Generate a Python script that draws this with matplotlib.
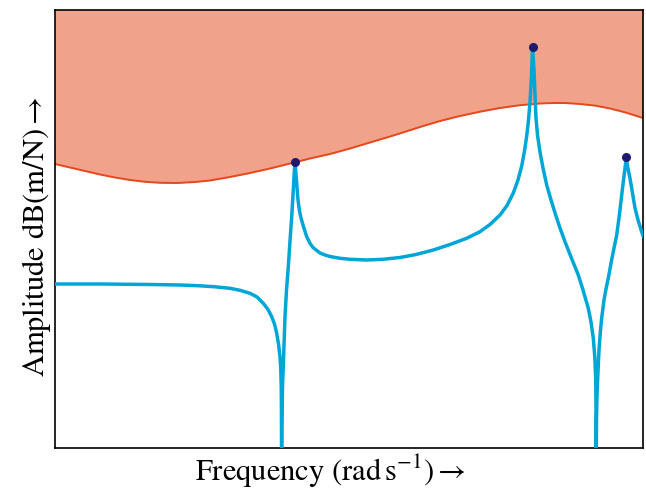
import matplotlib
matplotlib.use("Agg")
import matplotlib.pyplot as plt

# Frequency response (frequency in rad/s, amplitude in dB)
freq = [0, 45, 95, 125, 145, 160, 175, 185, 195, 202,
        208.3, 213, 216.7, 219.5, 221.7, 223.5, 225, 225.8, 226.2, 226.4,
        226.5, 226.6, 226.8, 227.2, 227.7, 228.3, 229, 230, 231.5, 233.3,
        235, 236.7, 238, 239, 239.6, 240, 240.8, 241.7, 243, 244.5,
        246, 248, 251.7, 255, 258, 261.7, 265, 270, 275, 285,
        295, 311.7, 328, 345, 361, 378.3, 395, 411.7, 425, 435,
        445, 452, 458.3, 463, 466.7, 469.5, 471.7, 473.5, 475, 476,
        476.7, 477.2, 477.5, 478.2, 479, 480, 481, 482.5, 485, 488,
        491.7, 496, 501, 505, 510, 516, 523.3, 528, 533.3, 536,
        538.3, 539.8, 540.7, 541, 541.2, 541.5, 542, 542.7, 544, 545.5,
        546.7, 549, 551, 553.3, 557, 561.7, 564.5, 566.7, 568.5, 570,
        571.3, 572.2, 573.5, 575, 577, 580, 583, 585.5, 588]
amp = [-137, -137, -137.25, -137.5, -137.9, -138.4, -139.15, -140.15, -141.65, -143.5,
       -146.65, -149.75, -153.35, -157, -161.65, -167, -173.35, -180, -187.5, -197.5,
       -210, -230, -210, -195, -185, -178.35, -167.5, -153.35, -140, -128.35,
       -115.5, -103.35, -92.5, -83.35, -78.5, -76.15, -81, -86.65, -95, -100.5,
       -104, -107.5, -113.35, -116.65, -118.75, -120.25, -121.5, -122.5, -123.25, -124.15,
       -124.65, -125, -124.65, -123.75, -122.25, -120, -117.25, -114.15, -110.85, -107.25,
       -102.5, -97.75, -91.5, -85, -78, -70.5, -63, -55, -46, -37.5,
       -30, -23.5, -18.65, -24, -30, -42.5, -54, -62.5, -71, -79,
       -87.5, -95, -103, -109, -115.85, -123.5, -132.5, -140, -149.15, -156,
       -164.15, -173.5, -184, -200, -230, -205, -192.5, -184, -170, -160,
       -154, -145, -139.5, -134, -124, -112.5, -102, -92.5, -85, -79.15,
       -73.65, -77, -80.5, -84.15, -90, -99, -105, -109, -113]

# Peak markers
peak_freq = [240, 477.5, 571.3]
peak_amp = [-76.15, -18.65, -73.65]

# Boundary of the shaded region
bound_freq = [0, 15, 30, 45, 60, 75, 90, 105, 122, 140,
              155, 175, 195, 215, 240, 255, 275, 295, 315, 340,
              365, 385, 405, 425, 445, 465, 485, 498, 510, 525,
              540, 555, 570, 588]
bound_amp = [-77, -78.75, -80.5, -82.25, -83.75, -85, -85.9, -86.4, -86.5, -86,
             -85.25, -83.5, -81.5, -79.25, -76.15, -74.25, -72, -69.25, -66.25, -62.5,
             -58.5, -55.5, -53, -50.85, -49, -47.6, -46.75, -46.5, -46.5, -47,
             -47.8, -49.25, -51.15, -54]

plt.rcParams['font.family'] = ['STIXGeneral', 'DejaVu Serif']
plt.rcParams['mathtext.fontset'] = 'stix'

fig = plt.figure(figsize=(6.46, 4.91), dpi=100)
ax = fig.add_axes([55/646, 43/491, 588/646, 438/491])

ax.fill_between(bound_freq, bound_amp, 0, color='#F0A28A', lw=0, zorder=1)
ax.plot(bound_freq, bound_amp, color='#E8471C', lw=1.4, zorder=2)
ax.plot(freq, amp, color='#00A6D6', lw=2.5, zorder=3,
        solid_joinstyle='round', solid_capstyle='round')
ax.plot(peak_freq, peak_amp, 'o', color='#1E1B6E', ms=5.5, zorder=4)

ax.set_xlim(0, 588)
ax.set_ylim(-219, 0)
ax.set_xticks([])
ax.set_yticks([])
for s in ax.spines.values():
    s.set_linewidth(1.2)

ax.set_xlabel(r'Frequency $(\mathrm{rad\,s^{-1}})\rightarrow$', fontsize=22)
ax.set_ylabel(r'Amplitude $\mathrm{dB}(\mathrm{m/N})\rightarrow$', fontsize=22)
ax.xaxis.set_label_coords(0.469, -0.012)
ax.yaxis.set_label_coords(-0.004, 0.482)

fig.savefig('out.png', dpi=100)
